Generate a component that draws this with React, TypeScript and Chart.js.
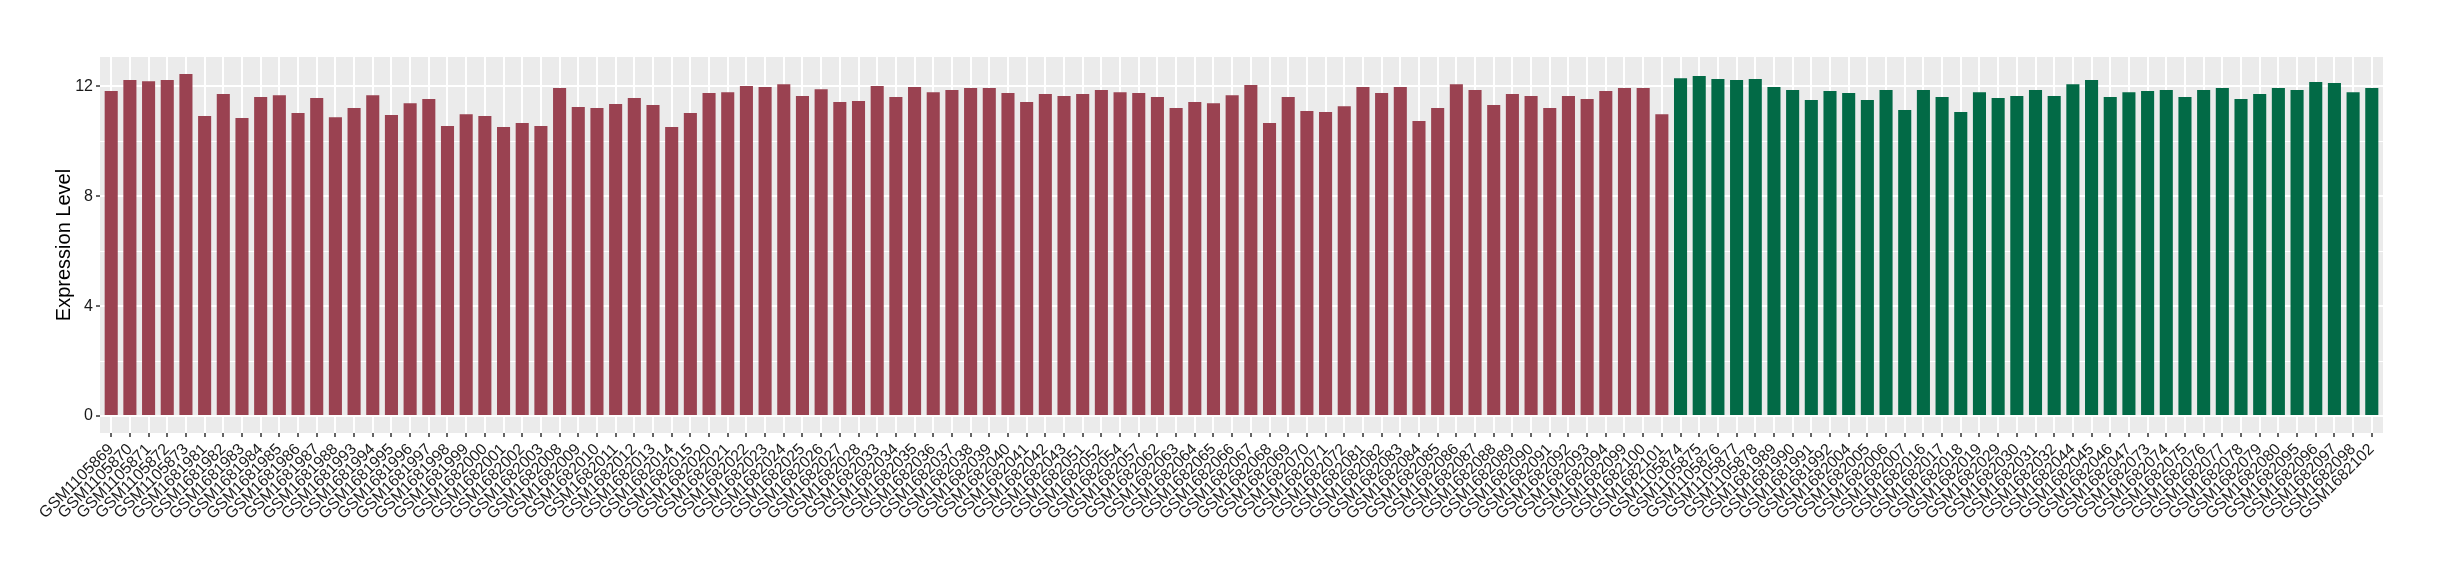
import React, { useEffect, useRef } from "react";
import { Chart, registerables } from "chart.js";

Chart.register(...registerables);

const redLabels: string[] = [
  "GSM1105869", "GSM1105870", "GSM1105871", "GSM1105872", "GSM1105873",
  "GSM1681981", "GSM1681982", "GSM1681983", "GSM1681984", "GSM1681985", "GSM1681986", "GSM1681987", "GSM1681988",
  "GSM1681993", "GSM1681994", "GSM1681995", "GSM1681996", "GSM1681997", "GSM1681998", "GSM1681999",
  "GSM1682000", "GSM1682001", "GSM1682002", "GSM1682003",
  "GSM1682008", "GSM1682009", "GSM1682010", "GSM1682011", "GSM1682012", "GSM1682013", "GSM1682014", "GSM1682015",
  "GSM1682020", "GSM1682021", "GSM1682022", "GSM1682023", "GSM1682024", "GSM1682025", "GSM1682026", "GSM1682027", "GSM1682028",
  "GSM1682033", "GSM1682034", "GSM1682035", "GSM1682036", "GSM1682037", "GSM1682038", "GSM1682039", "GSM1682040", "GSM1682041", "GSM1682042", "GSM1682043",
  "GSM1682051", "GSM1682052", "GSM1682054", "GSM1682057",
  "GSM1682062", "GSM1682063", "GSM1682064", "GSM1682065", "GSM1682066", "GSM1682067", "GSM1682068", "GSM1682069", "GSM1682070", "GSM1682071", "GSM1682072",
  "GSM1682081", "GSM1682082", "GSM1682083", "GSM1682084", "GSM1682085", "GSM1682086", "GSM1682087", "GSM1682088", "GSM1682089", "GSM1682090", "GSM1682091", "GSM1682092", "GSM1682093", "GSM1682094",
  "GSM1682099", "GSM1682100", "GSM1682101",
];

const greenLabels: string[] = [
  "GSM1105874", "GSM1105875", "GSM1105876", "GSM1105877", "GSM1105878",
  "GSM1681989", "GSM1681990", "GSM1681991", "GSM1681992",
  "GSM1682004", "GSM1682005", "GSM1682006", "GSM1682007",
  "GSM1682016", "GSM1682017", "GSM1682018", "GSM1682019",
  "GSM1682029", "GSM1682030", "GSM1682031", "GSM1682032",
  "GSM1682044", "GSM1682045", "GSM1682046", "GSM1682047",
  "GSM1682073", "GSM1682074", "GSM1682075", "GSM1682076", "GSM1682077", "GSM1682078", "GSM1682079", "GSM1682080",
  "GSM1682095", "GSM1682096", "GSM1682097", "GSM1682098",
  "GSM1682102",
];

const redValues: number[] = [
  11.83, 12.23, 12.19, 12.23, 12.45, 10.92, 11.72, 10.85, 11.61, 11.68,
  11.03, 11.58, 10.88, 11.21, 11.68, 10.96, 11.39, 11.54, 10.56, 10.99,
  10.92, 10.52, 10.67, 10.56, 11.94, 11.25, 11.21, 11.36, 11.58, 11.32,
  10.52, 11.03, 11.76, 11.79, 12.01, 11.98, 12.08, 11.65, 11.9, 11.43,
  11.47, 12.01, 11.61, 11.98, 11.79, 11.87, 11.94, 11.94, 11.76, 11.43,
  11.72, 11.65, 11.72, 11.87, 11.79, 11.76, 11.61, 11.21, 11.43, 11.39,
  11.68, 12.05, 10.67, 11.61, 11.1, 11.07, 11.28, 11.98, 11.76, 11.98,
  10.74, 11.21, 12.08, 11.87, 11.32, 11.72, 11.65, 11.21, 11.65, 11.54,
  11.83, 11.94, 11.94, 10.99,
];

const greenValues: number[] = [
  12.3, 12.38, 12.27, 12.23, 12.27, 11.98, 11.87, 11.5, 11.83, 11.76,
  11.5, 11.87, 11.14, 11.87, 11.61, 11.07, 11.79, 11.58, 11.65, 11.87,
  11.65, 12.08, 12.23, 11.61, 11.79, 11.83, 11.87, 11.61, 11.87, 11.94,
  11.54, 11.72, 11.94, 11.87, 12.16, 12.12, 11.79, 11.94,
];

const yMajorTicks: number[] = [0, 4, 8, 12];
const yAllGrid: number[] = [0, 2, 4, 6, 8, 10, 12];

const RED = "#9A4251";
const GREEN = "#026A46";
const FONT = "'Liberation Sans', Arial, Helvetica, sans-serif";

export default function App() {
  const ref = useRef<HTMLCanvasElement | null>(null);

  useEffect(() => {
    const canvas = ref.current;
    if (!canvas) return;
    const allLabels = [...redLabels, ...greenLabels];
    const redData = redValues.map((v, i) => ({ x: i, y: v }));
    const greenData = greenValues.map((v, i) => ({ x: redValues.length + i, y: v }));
    const n = allLabels.length;

    const panelBg = {
      id: "panelBg",
      beforeDraw(chart: any) {
        const { ctx, chartArea } = chart;
        ctx.save();
        ctx.fillStyle = "#EBEBEB";
        ctx.fillRect(chartArea.left, chartArea.top, chartArea.right - chartArea.left, chartArea.bottom - chartArea.top);
        ctx.restore();
      },
    };

    const chart = new Chart(canvas, {
      type: "bar",
      data: {
        datasets: [
          { data: redData, backgroundColor: RED, grouped: false, categoryPercentage: 1, barPercentage: 0.7 } as any,
          { data: greenData, backgroundColor: GREEN, grouped: false, categoryPercentage: 1, barPercentage: 0.7 } as any,
        ],
      },
      options: {
        animation: false,
        responsive: false,
        layout: { padding: { top: 57, right: 57, left: 0, bottom: 0 } },
        plugins: { legend: { display: false }, tooltip: { enabled: false } },
        scales: {
          x: {
            type: "linear",
            min: -0.6,
            max: n - 1 + 0.6,
            offset: false,
            afterBuildTicks: (scale: any) => {
              scale.ticks = allLabels.map((_, i) => ({ value: i }));
            },
            afterFit: (scale: any) => {
              scale.height = 147;
            },
            border: { display: false },
            grid: {
              color: "#FFFFFF",
              lineWidth: 2,
              drawTicks: true,
              tickLength: 4,
              tickColor: "#333333",
              tickWidth: 1.5,
              offset: false,
            },
            ticks: {
              autoSkip: false,
              maxRotation: 45,
              minRotation: 45,
              padding: 3,
              color: "#1A1A1A",
              font: { family: FONT, size: 16 },
              callback: (value: any) => allLabels[value as number],
            },
          },
          y: {
            type: "linear",
            min: -0.62,
            max: 13.07,
            afterBuildTicks: (scale: any) => {
              scale.ticks = yAllGrid.map((v) => ({ value: v }));
            },
            afterFit: (scale: any) => {
              scale.width = 100;
            },
            border: { display: false },
            grid: {
              color: "#FFFFFF",
              lineWidth: (ctx: any) => (yMajorTicks.includes(ctx.tick?.value) ? 2 : 1),
              drawTicks: true,
              tickLength: 4,
              tickColor: (ctx: any) => (yMajorTicks.includes(ctx.tick?.value) ? "#333333" : "rgba(0,0,0,0)"),
              tickWidth: 1.5,
            },
            ticks: {
              padding: 3,
              color: "#1A1A1A",
              font: { family: FONT, size: 16 },
              callback: (value: any) => (yMajorTicks.includes(value as number) ? String(value) : ""),
            },
            title: {
              display: true,
              text: "Expression Level",
              color: "#000000",
              font: { family: FONT, size: 20 },
              padding: { top: 52, bottom: 0 },
            },
          },
        },
      },
      plugins: [panelBg],
    });

    return () => chart.destroy();
  }, []);

  return (
    <div style={{ position: "absolute", left: 0, top: 0, width: 2440, height: 580, background: "#FFFFFF" }}>
      <canvas ref={ref} width={2440} height={580} style={{ width: 2440, height: 580, display: "block" }} />
    </div>
  );
}
